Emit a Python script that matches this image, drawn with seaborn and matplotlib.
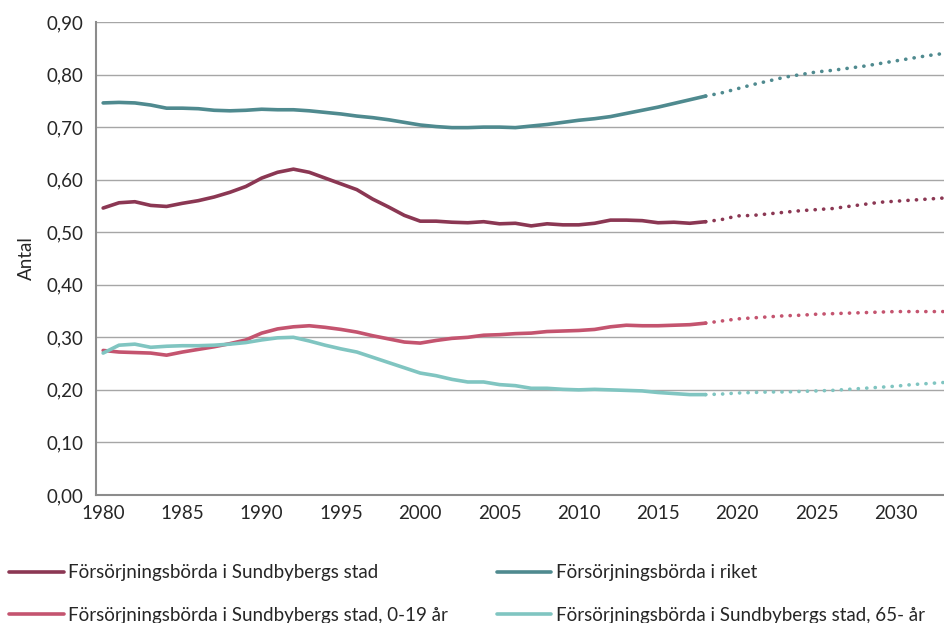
import matplotlib
matplotlib.use("Agg")
import matplotlib.pyplot as plt
import matplotlib.ticker as mticker
import numpy as np
import pandas as pd
import seaborn as sns

# Data
hist_years = list(range(1980, 2019))
proj_years = list(range(2018, 2034))

sundbyberg_hist = [0.546, 0.556, 0.558, 0.551, 0.549, 0.555, 0.560, 0.567, 0.576, 0.587,
                   0.603, 0.614, 0.620, 0.614, 0.603, 0.592, 0.581, 0.563, 0.548, 0.532,
                   0.521, 0.521, 0.519, 0.518, 0.520, 0.516, 0.517, 0.512, 0.516, 0.514,
                   0.514, 0.517, 0.523, 0.523, 0.522, 0.518, 0.519, 0.517, 0.520]
sundbyberg_proj = [0.520, 0.524, 0.531, 0.532, 0.535, 0.538, 0.541, 0.543, 0.545, 0.549,
                   0.553, 0.557, 0.559, 0.561, 0.563, 0.565]

riket_hist = [0.746, 0.747, 0.746, 0.742, 0.736, 0.736, 0.735, 0.732, 0.731, 0.732,
              0.734, 0.733, 0.733, 0.731, 0.728, 0.725, 0.721, 0.718, 0.714, 0.709,
              0.704, 0.701, 0.699, 0.699, 0.700, 0.700, 0.699, 0.702, 0.705, 0.709,
              0.713, 0.716, 0.720, 0.726, 0.732, 0.738, 0.745, 0.752, 0.759]
riket_proj = [0.759, 0.765, 0.773, 0.781, 0.788, 0.795, 0.800, 0.805, 0.808, 0.812,
              0.816, 0.821, 0.826, 0.831, 0.836, 0.840]

young_hist = [0.275, 0.272, 0.271, 0.270, 0.266, 0.272, 0.277, 0.282, 0.288, 0.295,
              0.308, 0.316, 0.320, 0.322, 0.319, 0.315, 0.310, 0.303, 0.297, 0.291,
              0.289, 0.294, 0.298, 0.300, 0.304, 0.305, 0.307, 0.308, 0.311, 0.312,
              0.313, 0.315, 0.320, 0.323, 0.322, 0.322, 0.323, 0.324, 0.327]
young_proj = [0.327, 0.331, 0.335, 0.337, 0.339, 0.341, 0.342, 0.344, 0.345, 0.346,
              0.347, 0.348, 0.349, 0.349, 0.349, 0.349]

old_hist = [0.270, 0.285, 0.287, 0.281, 0.283, 0.284, 0.284, 0.285, 0.287, 0.290,
            0.295, 0.299, 0.300, 0.293, 0.285, 0.278, 0.272, 0.262, 0.252, 0.242,
            0.232, 0.227, 0.220, 0.215, 0.215, 0.210, 0.208, 0.203, 0.203, 0.201,
            0.200, 0.201, 0.200, 0.199, 0.198, 0.195, 0.193, 0.191, 0.191]
old_proj = [0.191, 0.192, 0.194, 0.195, 0.196, 0.196, 0.197, 0.198, 0.199, 0.201,
            0.203, 0.205, 0.207, 0.210, 0.212, 0.214]

series = [
    ("Försörjningsbörda i Sundbybergs stad", sundbyberg_hist, sundbyberg_proj, "#8B3753"),
    ("Försörjningsbörda i riket", riket_hist, riket_proj, "#4F8A8F"),
    ("Försörjningsbörda i Sundbybergs stad, 0-19 år", young_hist, young_proj, "#C4546F"),
    ("Försörjningsbörda i Sundbybergs stad, 65- år", old_hist, old_proj, "#80C5C1"),
]

sns.set_style("white")
plt.rcParams['font.family'] = ['Lato', 'DejaVu Sans']

fig = plt.figure(figsize=(9.45, 6.23), dpi=100)
ax = fig.add_axes([0.1016, 0.2055, 0.8984, 0.7592])

handles = {}
for name, hist, proj, color in series:
    sns.lineplot(x=hist_years, y=hist, ax=ax, color=color, linewidth=2.6)
    line = ax.lines[-1]
    line.set_solid_capstyle('round')
    handles[name] = line
    sns.lineplot(x=proj_years, y=proj, ax=ax, color=color, linewidth=2.6)
    dot = ax.lines[-1]
    dot.set_dashes((0.05, 2.3))
    dot.set_dash_capstyle('round')

ax.set_xlim(1979.55, 2033.1)
ax.set_ylim(0, 0.9)
ax.set_xticks(range(1980, 2031, 5))
ax.set_yticks(np.arange(0, 0.91, 0.1))
ax.yaxis.set_major_formatter(mticker.FuncFormatter(lambda v, p: f"{v:.2f}".replace('.', ',')))
ax.yaxis.grid(True, color='#A6A6A6', linewidth=1)
ax.set_axisbelow(True)
for side in ['top', 'right']:
    ax.spines[side].set_visible(False)
ax.spines['left'].set_color('#8C8C8C')
ax.spines['bottom'].set_color('#8C8C8C')
ax.spines['left'].set_linewidth(1.5)
ax.spines['bottom'].set_linewidth(1.5)
ax.tick_params(axis='y', length=6, color='#8C8C8C', labelsize=13.5, labelcolor='#262626', pad=3)
ax.tick_params(axis='x', length=0, labelsize=13.5, labelcolor='#262626', pad=7)
ax.set_xlabel('')
ax.set_ylabel('Antal', fontsize=13.5, color='#262626', labelpad=8)

order = [series[0][0], series[2][0], series[1][0], series[3][0]]
fig.legend([handles[n] for n in order], order, loc='lower left', bbox_to_anchor=(0.0, -0.016),
           ncol=2, frameon=False, fontsize=13.5, handlelength=2.9, handletextpad=0.25,
           columnspacing=2.6, labelspacing=1.35, labelcolor='#262626',
           borderaxespad=0.3, borderpad=0.2)

fig.savefig('out.png', dpi=100)
